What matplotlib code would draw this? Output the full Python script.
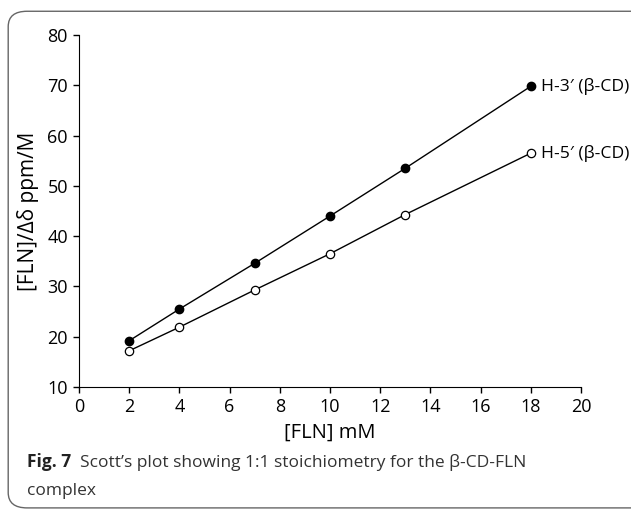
import matplotlib.pyplot as plt
from matplotlib.patches import FancyBboxPatch

plt.rcParams['font.family'] = ['Open Sans', 'DejaVu Sans']

# data
fln = [2, 4, 7, 10, 13, 18]
h3 = [19.2, 25.5, 34.6, 44.0, 53.5, 69.8]
h5 = [17.2, 21.9, 29.3, 36.5, 44.3, 56.5]
labels = ["H-3\u2032 (\u03b2-CD)", "H-5\u2032 (\u03b2-CD)"]

fig = plt.figure(figsize=(6.31, 5.12), dpi=100)

# rounded frame around figure + caption
frame = FancyBboxPatch((0.013, 0.008), 1.2, 0.97, boxstyle="round,pad=0,rounding_size=0.03",
                       transform=fig.transFigure, fill=False, edgecolor='#666666', lw=1.0)
fig.patches.append(frame)

ax = fig.add_axes([79 / 631, 1 - 387 / 512, 502 / 631, 352 / 512])
ax.plot(fln, h3, '-o', color='black', lw=1, ms=6, mfc='black', mec='black')
ax.plot(fln, h5, '-o', color='black', lw=1, ms=6, mfc='white', mec='black', mew=0.9)

ax.text(18.4, h3[-1], labels[0], fontsize=12.6, va='center', ha='left')
ax.text(18.4, h5[-1], labels[1], fontsize=12.6, va='center', ha='left')

ax.set_xlim(0, 20)
ax.set_ylim(10, 80)
ax.set_xticks(range(0, 21, 2))
ax.set_yticks(range(10, 81, 10))
ax.spines['top'].set_visible(False)
ax.spines['right'].set_visible(False)
ax.tick_params(direction='out', length=4, width=1, labelsize=13, pad=4)
ax.set_xlabel('[FLN] mM', fontsize=14.5, labelpad=5)
ax.set_ylabel('[FLN]/\u0394\u03b4 ppm/M', fontsize=15, labelpad=6)

fig.text(0.043, 0.088, 'Fig. 7', fontsize=12.5, fontweight='bold', color='#222222')
fig.text(0.126, 0.088, 'Scott\u2019s plot showing 1:1 stoichiometry for the \u03b2-CD-FLN',
         fontsize=12.5, color='#333333')
fig.text(0.043, 0.033, 'complex', fontsize=12.5, color='#333333')

fig.savefig('out.png', dpi=100)
